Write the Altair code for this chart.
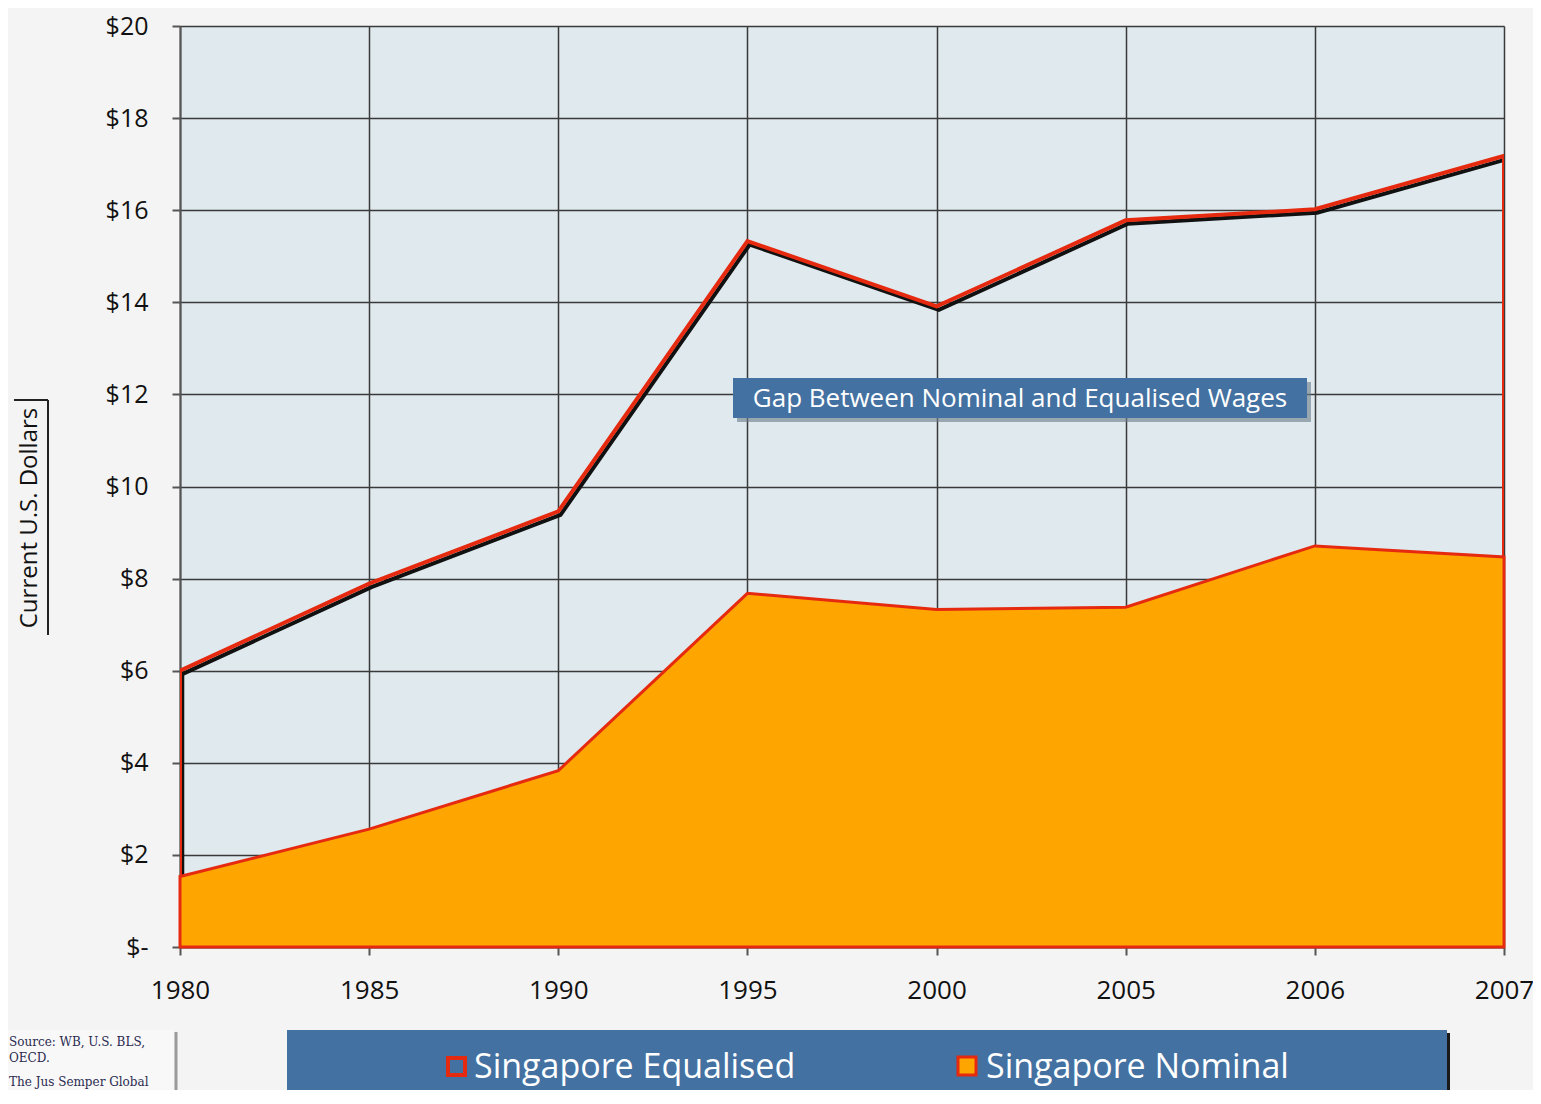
import altair as alt
import pandas as pd

years = ["1980", "1985", "1990", "1995", "2000", "2005", "2006", "2007"]
equalised = [6.00, 7.89, 9.46, 15.33, 13.91, 15.78, 16.02, 17.18]
nominal = [1.53, 2.56, 3.83, 7.68, 7.33, 7.38, 8.71, 8.47]
y_ticks = [0, 2, 4, 6, 8, 10, 12, 14, 16, 18, 20]

FONT = "Open Sans"
RED = "#E62A10"
ORANGE = "#FFA500"
BLUE = "#4371A1"

TOP = 18
W, H = 1324, 921

df = pd.DataFrame({
    "idx": list(range(len(years))),
    "year": years,
    "equalised": equalised,
    "nominal": nominal,
})

label_expr = "[" + ",".join(f"'{y}'" for y in years) + "][datum.value]"

x_scale = alt.Scale(domain=[0, len(years) - 1], nice=False, zero=False)
x_axis = alt.Axis(
    values=list(range(len(years))), labelExpr=label_expr, title=None,
    grid=True, gridColor="#3a3a3a", gridWidth=1.5, gridOpacity=1,
    domainColor="#555555", domainWidth=2, tickColor="#555555", tickWidth=2,
    tickSize=8, labelFont=FONT, labelFontSize=26, labelColor="#111111",
    labelPadding=22, labelFlush=False,
)

y_scale = alt.Scale(domain=[0, 20], nice=False)
y_axis = alt.Axis(
    values=y_ticks,
    labelExpr="datum.value == 0 ? '$-\u00a0\u00a0' : '$' + datum.value",
    title=None, grid=True, gridColor="#3a3a3a", gridWidth=1.5, gridOpacity=1,
    domainColor="#555555", domainWidth=2, tickColor="#555555", tickWidth=2,
    tickSize=8, labelFont=FONT, labelFontSize=25, labelColor="#111111",
    labelPadding=24,
)

base = alt.Chart(df)

shadow = base.transform_calculate(
    xs="datum.idx + 0.012", ys="datum.equalised - 0.075"
).mark_area(fill=None, stroke="#111111", strokeWidth=4, clip=True).encode(
    x=alt.X("xs:Q", scale=x_scale, axis=x_axis),
    y=alt.Y("ys:Q", scale=y_scale, axis=y_axis),
)

eq_area = base.mark_area(fill=None, stroke=RED, strokeWidth=4, clip=True).encode(
    x=alt.X("idx:Q", scale=x_scale, axis=x_axis),
    y=alt.Y("equalised:Q", scale=y_scale, axis=y_axis),
)

nom_area = base.mark_area(fill=ORANGE, stroke=RED, strokeWidth=3, clip=False).encode(
    x=alt.X("idx:Q", scale=x_scale, axis=x_axis),
    y=alt.Y("nominal:Q", scale=y_scale, axis=y_axis),
)

one = pd.DataFrame({"a": [0]})


def box(x, x2, y, y2, **kw):
    return alt.Chart(one).mark_rect(**kw).encode(
        x=alt.value(x), x2=alt.value(x2), y=alt.value(y - TOP - 8), y2=alt.value(y2 - TOP - 8)
    )


def label(text, x, y, **kw):
    return alt.Chart(pd.DataFrame({"t": [text]})).mark_text(**kw).encode(
        x=alt.value(x), y=alt.value(y - TOP - 8), text="t:N"
    )


def rule(x, y, x2=None, y2=None, **kw):
    enc = dict(x=alt.value(x), y=alt.value(y - TOP - 8))
    if x2 is not None:
        enc["x2"] = alt.value(x2)
    if y2 is not None:
        enc["y2"] = alt.value(y2 - TOP - 8)
    return alt.Chart(one).mark_rule(**kw).encode(**enc)


# positions below: x relative to plot left edge, y in page pixels
# annotation box
ann_shadow = box(557, 1131, 382, 422, color="#6b7b88", opacity=0.6)
ann_box = box(553, 1127, 378, 418, color=BLUE)
ann_text = label("Gap Between Nominal and Equalised Wages", 840, 399,
                 font=FONT, fontSize=26, color="white", align="center", baseline="middle")

# y title with bracket
ytitle = label("Current U.S. Dollars", -150, 518, font=FONT, fontSize=24, color="#111111",
               angle=270, align="center", baseline="middle")
br1 = rule(-132, 400, y2=635, color="#222222", strokeWidth=2)
br2 = rule(-166, 400, x2=-132, color="#222222", strokeWidth=2)

# legend box
leg_shadow = box(110, 1270, 1033, 1110, color="#1a1a1a")
leg_box = box(107, 1267, 1030, 1110, color=BLUE)
leg_sym1 = box(268, 285, 1058, 1075, fill=BLUE, stroke=RED, strokeWidth=4)
leg_sym2 = box(778, 796, 1057, 1075, fill=ORANGE, stroke=RED, strokeWidth=3)
leg_txt1 = label("Singapore Equalised", 294, 1068, font=FONT, fontSize=34, color="white",
                 align="left", baseline="middle")
leg_txt2 = label("Singapore Nominal", 806, 1068, font=FONT, fontSize=34, color="white",
                 align="left", baseline="middle")

# source box
src_box = box(-172, -6, 1030, 1110, fill="#f8f8f8")
src_edge = rule(-4, 1032, y2=1110, color="#9a9a9a", strokeWidth=3)
src_kw = dict(font="DejaVu Serif", fontSize=12, color="#2a2a50", align="left", baseline="middle")
src1 = label("Source: WB, U.S. BLS,", -171, 1042, **src_kw)
src2 = label("OECD.", -171, 1058, **src_kw)
src3 = label("The Jus Semper Global", -171, 1082, **src_kw)

chart = alt.layer(
    shadow, eq_area, nom_area, ann_shadow, ann_box, ann_text,
    ytitle, br1, br2, leg_shadow, leg_box, leg_sym1, leg_sym2, leg_txt1, leg_txt2,
    src_box, src_edge, src1, src2, src3,
).properties(
    width=W, height=H,
    autosize=alt.AutoSizeParams(type="none"),
    padding={"left": 172, "top": TOP, "right": 29, "bottom": 143},
    background="#F4F4F4",
).configure_view(
    fill="#DFE9EE", stroke=None,
)

chart.save("out.html", embed_options={"renderer": "svg", "actions": False})
